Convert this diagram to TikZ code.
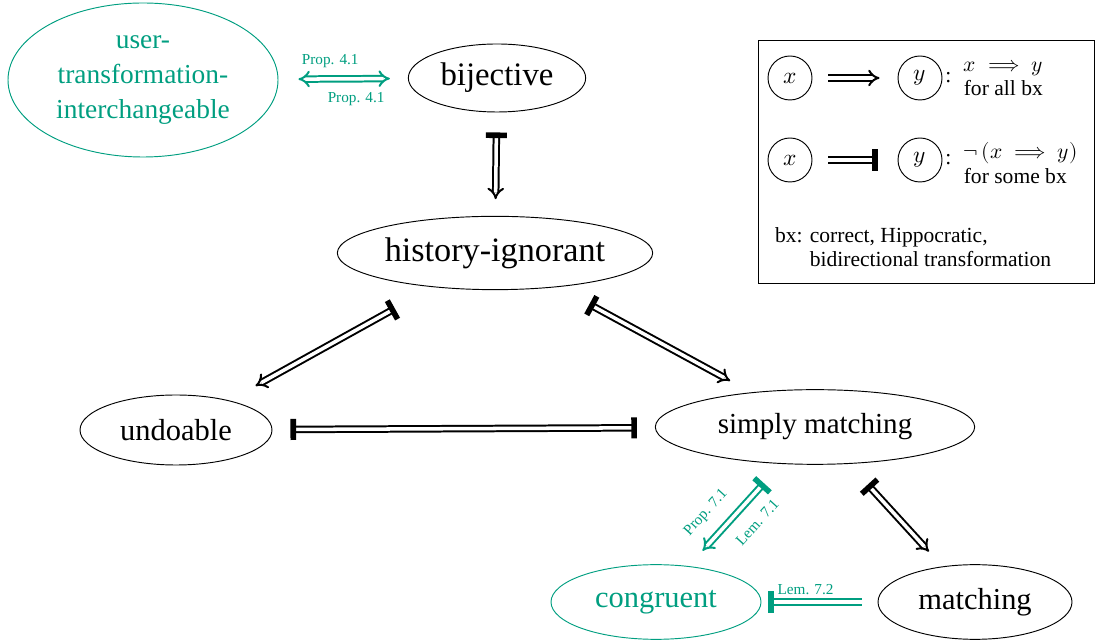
\documentclass[tikz,border=0pt]{standalone}
\usepackage{amsmath,amssymb}
\usepackage{fontspec}
\usepackage{unicode-math}
\setmainfont{Liberation Serif}
\usetikzlibrary{shapes.geometric,arrows.meta}
\definecolor{lemgreen}{RGB}{0,158,128}
\tikzset{
  prop/.style={ellipse, draw, inner sep=0pt, font=\fontsize{13}{15}\selectfont},
  newprop/.style={prop, draw=lemgreen, text=lemgreen},
  impl/.style={double, double distance=1.5pt, line width=0.85pt, -{Implies}},
  nimpl/.style={impl, {Bar[width=9pt,line width=2.4pt]}-{Implies}},
  nboth/.style={impl, {Bar[width=9pt,line width=2.4pt]}-{Bar[width=9pt,line width=2.4pt]}},
  ref/.style={font=\fontsize{6.5}{8}\selectfont, text=lemgreen, inner sep=1.5pt},
  legcirc/.style={circle, draw, minimum size=0.66cm, inner sep=0pt},
  legtext/.style={font=\fontsize{9.2}{10.4}\selectfont, align=left, inner sep=0pt},
}
\begin{document}
\begin{tikzpicture}
\useasboundingbox (0,0) rectangle (16.485,9.615);

% ---- properties ----
\node[newprop, minimum width=4.05cm, minimum height=2.31cm, align=center, font=\fontsize{11.7}{15}\selectfont] (uti) at (2.145,8.415) {user-\\transformation-\\interchangeable};
\node[prop, minimum width=2.66cm, minimum height=1.02cm, font=\fontsize{14}{15}\selectfont] (bij) at (7.455,8.445) {bijective};
\node[prop, minimum width=4.73cm, minimum height=1.1cm, font=\fontsize{14.6}{15}\selectfont] (hist) at (7.425,5.82) {history-ignorant};
\node[prop, minimum width=2.88cm, minimum height=1.05cm] (undo) at (2.64,3.165) {undoable};
\node[prop, minimum width=4.79cm, minimum height=1.12cm, font=\fontsize{12.4}{15}\selectfont] (simp) at (12.225,3.21) {simply matching};
\node[newprop, minimum width=3.15cm, minimum height=1.12cm] (cong) at (9.84,0.585) {congruent};
\node[prop, minimum width=2.91cm, minimum height=1.12cm] (match) at (14.625,0.585) {matching};

% ---- implications ----
\draw[impl, lemgreen, {Implies}-{Implies}, shorten <=0.3cm, shorten >=0.27cm] (uti) -- (bij)
  node[ref, pos=0.4, above=3pt] {Prop. 4.1}
  node[ref, pos=0.6, below=4pt] {Prop. 4.1};
\draw[nimpl, shorten <=0.3cm, shorten >=0.25cm] (bij) -- (hist);
\draw[nimpl, shorten <=0.66cm, shorten >=0.45cm] (hist) -- (undo);
\draw[nimpl, shorten <=0.54cm, shorten >=0.36cm] (hist) -- (simp);
\draw[nboth, shorten <=0.27cm, shorten >=0.27cm] (undo) -- (simp);
\draw[nimpl, lemgreen, shorten <=0.39cm, shorten >=0.31cm] (simp) -- (cong)
  node[ref, pos=0.63, sloped, above=5pt] {Prop. 7.1}
  node[ref, pos=0.43, sloped, below=5pt] {Lem. 7.1};
\draw[nimpl, shorten <=0.42cm, shorten >=0.3cm] (simp) -- (match);
\draw[impl, lemgreen, -{Bar[width=9pt,line width=2.4pt]}, shorten <=0.24cm, shorten >=0.1cm] (match) -- (cong)
  node[ref, pos=0.62, above=1pt] {Lem. 7.2};

% ---- legend ----
\draw (11.37,5.37) rectangle (16.41,9.015);
\node[legcirc] (lx1) at (11.85,8.445) {$x$};
\node[legcirc] (ly1) at (13.8,8.445) {$y$};
\node[legcirc] (lx2) at (11.85,7.215) {$x$};
\node[legcirc] (ly2) at (13.8,7.215) {$y$};
\draw[impl, shorten <=0.24cm, shorten >=0.27cm] (lx1) -- (ly1);
\draw[impl, -{Bar[width=9pt,line width=2.4pt]}, shorten <=0.24cm, shorten >=0.3cm] (lx2) -- (ly2);
\node[legtext, anchor=west, xshift=1pt] (c1) at (ly1.east) {:};
\node[legtext, anchor=west, xshift=1pt] (c2) at (ly2.east) {:};
\node[legtext, anchor=west] (t1) at (14.45,8.445) {$x \implies y$\\for all bx};
\node[legtext, anchor=west] (t2) at (14.45,7.17) {$\neg\,(x \implies y)$\\for some bx};
\node[legtext, anchor=west] (bx) at (11.62,5.91) {bx: correct, Hippocratic,\\\phantom{bx: }bidirectional transformation};

\end{tikzpicture}
\end{document}
